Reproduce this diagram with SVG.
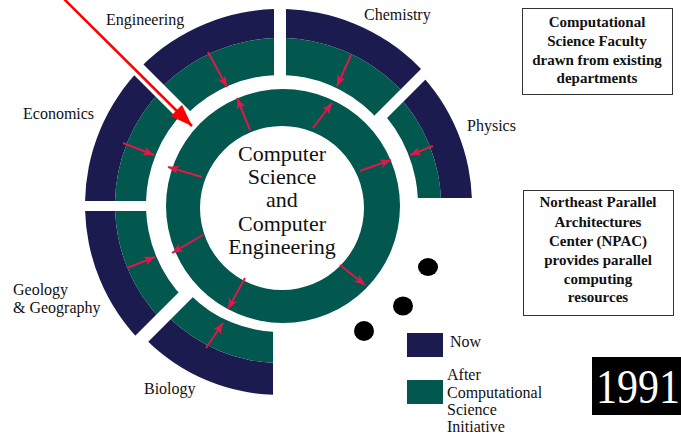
<svg xmlns="http://www.w3.org/2000/svg" width="681" height="438" viewBox="0 0 681 438">
<style>
.navy{fill:#1b1b50;fill-rule:evenodd}
.teal{fill:#02574f;fill-rule:evenodd}
.lbl{font-family:"Liberation Serif","Times New Roman",serif;font-size:16px;fill:#111}
.ctr{font-family:"Liberation Serif","Times New Roman",serif;font-size:22px;fill:#111;text-anchor:middle}
.box{fill:#fff;stroke:#333;stroke-width:1}
.bt{font-family:"Liberation Serif","Times New Roman",serif;font-size:15px;font-weight:bold;fill:#111;text-anchor:middle}
.arr{stroke:#e0184a;stroke-width:2;fill:none;marker-end:url(#ah)}
</style>
<defs>
<marker id="ah" markerUnits="userSpaceOnUse" markerWidth="12" markerHeight="10" refX="11" refY="4.5" orient="auto"><path d="M0,0 L11,4.5 L0,9 L3,4.5 Z" fill="#e0184a"/></marker>
<marker id="big" markerUnits="userSpaceOnUse" markerWidth="24" markerHeight="18" refX="22" refY="8" orient="auto"><path d="M0,0 L22,8 L0,16 Z" fill="#f00"/></marker>
<clipPath id="cChem"><polygon points="286,204 286,-20 510,-20"/></clipPath>
<clipPath id="cPhys"><polygon points="307,198 525,-20 700,-20 700,198"/></clipPath>
<clipPath id="cEng"><polygon points="274,195 274,-20 59,-20"/></clipPath>
<clipPath id="cEcon"><polygon points="260,201 39,-20 -20,-20 -20,201"/></clipPath>
<clipPath id="cGeo"><polygon points="-20,211 260,211 -20,491"/></clipPath>
<clipPath id="cBio"><polygon points="273,217 273,460 30,460"/></clipPath>
<path id="nTop" d="M84,205a196,196 0 1 0 392,0a196,196 0 1 0 -392,0Z M113,205a167,167 0 1 0 334,0a167,167 0 1 0 -334,0Z"/>
<path id="tTop" d="M113,205a167,167 0 1 0 334,0a167,167 0 1 0 -334,0Z M150,205a130,130 0 1 0 260,0a130,130 0 1 0 -260,0Z"/>
<path id="nLeft" d="M85,205a195,195 0 1 0 390,0a195,195 0 1 0 -390,0Z M115,205a165,165 0 1 0 330,0a165,165 0 1 0 -330,0Z"/>
<path id="tLeft" d="M115,205a165,165 0 1 0 330,0a165,165 0 1 0 -330,0Z M146,205a134,134 0 1 0 268,0a134,134 0 1 0 -268,0Z"/>
</defs>
<rect width="681" height="438" fill="#fff"/>

<g id="chemistry" clip-path="url(#cChem)">
<use href="#nTop" class="navy"/><use href="#tTop" class="teal"/>
</g>
<g id="engineering" clip-path="url(#cEng)">
<use href="#nTop" class="navy"/><use href="#tTop" class="teal"/>
</g>
<g id="economics" clip-path="url(#cEcon)">
<use href="#nLeft" class="navy"/><use href="#tLeft" class="teal"/>
</g>
<g id="geology" clip-path="url(#cGeo)">
<use href="#nLeft" class="navy"/><use href="#tLeft" class="teal"/>
</g>
<g id="biology" clip-path="url(#cBio)">
<path class="navy" d="M90,205a190,190 0 1 0 380,0a190,190 0 1 0 -380,0Z M122,205a158,158 0 1 0 316,0a158,158 0 1 0 -316,0Z"/>
<path class="teal" d="M122,205a158,158 0 1 0 316,0a158,158 0 1 0 -316,0Z M153,205a127,127 0 1 0 254,0a127,127 0 1 0 -254,0Z"/>
</g>
<g id="physics" clip-path="url(#cPhys)">
<path class="navy" d="M88,205a192,192 0 1 0 384,0a192,192 0 1 0 -384,0Z M119,205a161,161 0 1 0 322,0a161,161 0 1 0 -322,0Z"/>
<path class="teal" d="M119,205a161,161 0 1 0 322,0a161,161 0 1 0 -322,0Z M142,205a138,138 0 1 0 276,0a138,138 0 1 0 -276,0Z"/>
</g>

<g id="cs-ce">
<path class="teal" d="M166,206a117,117 0 1 0 234,0a117,117 0 1 0 -234,0Z M200,208a82,82 0 1 0 164,0a82,82 0 1 0 -164,0Z"/>
<text class="ctr" x="282" y="161">Computer</text>
<text class="ctr" x="282" y="184">Science</text>
<text class="ctr" x="282" y="207">and</text>
<text class="ctr" x="282" y="231">Computer</text>
<text class="ctr" x="282" y="254">Engineering</text>
</g>

<g id="labels">
<text class="lbl" x="106" y="25">Engineering</text>
<text class="lbl" x="364" y="20">Chemistry</text>
<text class="lbl" x="23" y="119">Economics</text>
<text class="lbl" x="467" y="131">Physics</text>
<text class="lbl" x="13" y="295">Geology</text>
<text class="lbl" x="13" y="313">&amp; Geography</text>
<text class="lbl" x="144" y="394">Biology</text>
</g>

<g id="connectors">
<line class="arr" x1="208" y1="52" x2="227" y2="87"/>
<line class="arr" x1="250" y1="130" x2="237" y2="98"/>
<line class="arr" x1="123" y1="143" x2="154" y2="155"/>
<line class="arr" x1="202" y1="177" x2="168" y2="167"/>
<line class="arr" x1="351" y1="55" x2="337" y2="86"/>
<line class="arr" x1="313" y1="128" x2="332" y2="103"/>
<line class="arr" x1="433" y1="146" x2="410" y2="155"/>
<line class="arr" x1="360" y1="171" x2="391" y2="160"/>
<line class="arr" x1="203" y1="235" x2="172" y2="253"/>
<line class="arr" x1="127" y1="268" x2="155" y2="257"/>
<line class="arr" x1="245" y1="278" x2="228" y2="309"/>
<line class="arr" x1="206" y1="348" x2="223" y2="323"/>
<line class="arr" x1="340" y1="265" x2="365" y2="285"/>
<line x1="62" y1="-3" x2="192" y2="126" stroke="#f00" stroke-width="2.5" marker-end="url(#big)"/>
</g>

<g id="dots" fill="#000">
<ellipse cx="428" cy="267" rx="10" ry="9"/>
<ellipse cx="403" cy="306" rx="10" ry="9.5"/>
<ellipse cx="364" cy="331" rx="10" ry="10"/>
</g>

<g id="legend">
<rect x="407" y="333" width="36" height="24" fill="#1b1b50"/>
<rect x="407" y="380" width="36" height="24" fill="#02574f"/>
<text class="lbl" x="450" y="347">Now</text>
<text class="lbl" x="447" y="380">After</text>
<text class="lbl" x="447" y="398">Computational</text>
<text class="lbl" x="447" y="415">Science</text>
<text class="lbl" x="447" y="432">Initiative</text>
</g>

<g id="faculty-note">
<rect class="box" x="522.5" y="8.5" width="150" height="86"/>
<text class="bt" x="597" y="27">Computational</text>
<text class="bt" x="597" y="46">Science Faculty</text>
<text class="bt" x="597" y="65">drawn from existing</text>
<text class="bt" x="597" y="83">departments</text>
</g>

<g id="npac-note">
<rect class="box" x="523.5" y="190.5" width="150" height="125"/>
<text class="bt" x="598" y="207">Northeast Parallel</text>
<text class="bt" x="598" y="227">Architectures</text>
<text class="bt" x="598" y="246">Center (NPAC)</text>
<text class="bt" x="598" y="265">provides parallel</text>
<text class="bt" x="598" y="284">computing</text>
<text class="bt" x="598" y="302">resources</text>
</g>

<g id="year">
<rect x="592" y="357" width="89" height="58" fill="#000"/>
<text transform="translate(596,403) scale(1,1.15)" font-family="'Liberation Serif','Times New Roman',serif" font-size="42" fill="#fff">1991</text>
</g>
</svg>
